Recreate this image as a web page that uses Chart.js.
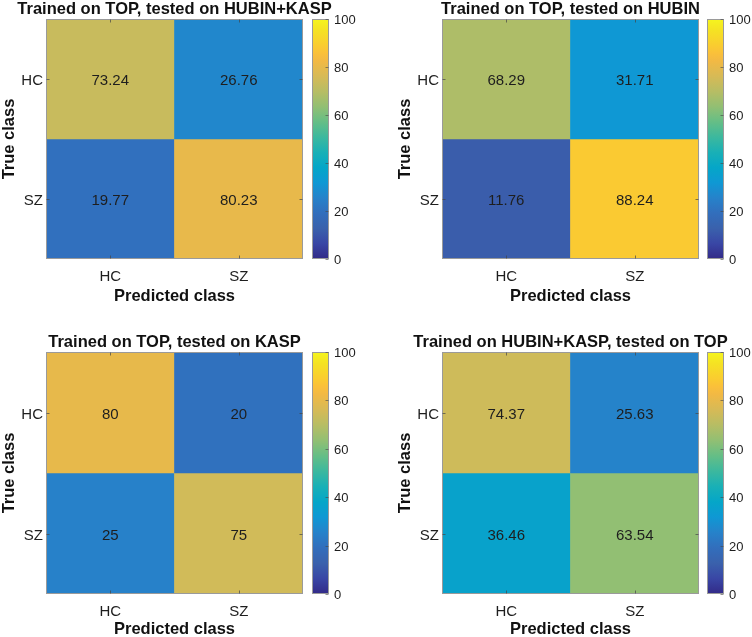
<!DOCTYPE html>
<html>
<head>
<meta charset="utf-8">
<script src="https://cdn.jsdelivr.net/npm/chart.js@4.4.0/dist/chart.umd.min.js"></script>
<style>
html,body{margin:0;padding:0;background:#fff;}
#wrap{position:relative;width:752px;height:637px;overflow:hidden;background:#fff;}
canvas{position:absolute;}
</style>
</head>
<body>
<div id="wrap"></div>
<script>
// ---------------- data ----------------
const classes = ['HC', 'SZ'];
const panelTitles = [
  'Trained on TOP, tested on HUBIN+KASP',
  'Trained on TOP, tested on HUBIN',
  'Trained on TOP, tested on KASP',
  'Trained on HUBIN+KASP, tested on TOP'
];
const cmTopHubinKasp = [[73.24, 26.76], [19.77, 80.23]];
const cmTopHubin     = [[68.29, 31.71], [11.76, 88.24]];
const cmTopKasp      = [[80, 20], [25, 75]];
const cmHubinKaspTop = [[74.37, 25.63], [36.46, 63.54]];
const colorbarTicks  = [0, 20, 40, 60, 80, 100];
const xAxisTitle = 'Predicted class';
const yAxisTitle = 'True class';

// ---------------- style ----------------
const FONT = "'Liberation Sans', Arial, Helvetica, sans-serif";
const TEXT = '#1e1e1e';
const EDGE = '#9a9a9a';
// parula-like colormap anchors (t, rgb), toned as in the printed figure
const PARULA = [
  [0/63,[50,42,135]],[4/63,[57,70,165]],[8/63,[58,97,172]],[12/63,[50,110,188]],
  [16/63,[38,130,202]],[20/63,[15,152,212]],[24/63,[5,166,200]],[28/63,[25,176,182]],
  [32/63,[60,184,158]],[36/63,[101,190,134]],[40/63,[146,191,115]],[44/63,[183,189,100]],
  [48/63,[215,186,86]],[52/63,[242,185,68]],[54/63,[250,192,58]],[56/63,[250,204,48]],
  [60/63,[245,226,35]],[63/63,[245,245,30]]
];
function parula(t){
  t = Math.max(0, Math.min(1, t));
  for (let i = 1; i < PARULA.length; i++) {
    const [t1, c1] = PARULA[i];
    if (t <= t1) {
      const [t0, c0] = PARULA[i-1];
      const f = (t - t0) / (t1 - t0);
      const c = c0.map((v, k) => Math.round(v + (c1[k] - v) * f));
      return `rgb(${c[0]},${c[1]},${c[2]})`;
    }
  }
  const c = PARULA[PARULA.length-1][1];
  return `rgb(${c[0]},${c[1]},${c[2]})`;
}

const heatmapDecor = {
  id: 'heatmapDecor',
  afterDatasetsDraw(chart) {
    const {ctx, chartArea: a, scales: {x, y}} = chart;
    ctx.save();
    ctx.font = `15px ${FONT}`;
    ctx.fillStyle = TEXT;
    ctx.textAlign = 'center';
    ctx.textBaseline = 'middle';
    chart.data.datasets.forEach((ds, di) => {
      const meta = chart.getDatasetMeta(di);
      meta.data.forEach((bar, j) => {
        ctx.fillText(String(ds.cellValues[j]), bar.x, (bar.y + bar.base) / 2 + 2);
      });
    });
    ctx.strokeStyle = EDGE;
    ctx.lineWidth = 1;
    const L = Math.round(a.left) + 0.5, R = Math.round(a.right) - 0.5;
    const T = Math.round(a.top) + 0.5, B = Math.round(a.bottom) - 0.5;
    ctx.strokeRect(L, T, R - L, B - T);
    ctx.strokeStyle = 'rgba(70,70,70,0.7)';
    ctx.beginPath();
    x.ticks.forEach((tk, i) => {
      const px = Math.round(x.getPixelForTick(i)) + 0.5;
      ctx.moveTo(px, B); ctx.lineTo(px, B - 3);
      ctx.moveTo(px, T); ctx.lineTo(px, T + 3);
    });
    y.ticks.forEach((tk) => {
      const py = Math.round(y.getPixelForValue(tk.value)) + 0.5;
      ctx.moveTo(L, py); ctx.lineTo(L + 3, py);
      ctx.moveTo(R, py); ctx.lineTo(R - 3, py);
    });
    ctx.stroke();
    ctx.restore();
  }
};

const colorbarDecor = {
  id: 'colorbarDecor',
  afterDatasetsDraw(chart) {
    const {ctx, chartArea: a, scales: {y}} = chart;
    ctx.save();
    ctx.strokeStyle = EDGE;
    ctx.lineWidth = 1;
    const L = Math.round(a.left) + 0.5, R = Math.round(a.right) - 0.5;
    const T = Math.round(a.top) + 0.5, B = Math.round(a.bottom) - 0.5;
    ctx.strokeRect(L, T, R - L, B - T);
    ctx.strokeStyle = 'rgba(70,70,70,0.6)';
    ctx.beginPath();
    y.ticks.forEach((tk) => {
      const py = Math.round(y.getPixelForValue(tk.value)) + 0.5;
      ctx.moveTo(R, py); ctx.lineTo(R - 3, py);
    });
    ctx.stroke();
    ctx.restore();
  }
};

function parulaGradient(chart) {
  const a = chart.chartArea;
  if (!a) return null;
  const y = chart.scales.y;
  const y0 = y.getPixelForValue(colorbarTicks[0]);
  const y1 = y.getPixelForValue(colorbarTicks[colorbarTicks.length - 1]);
  const g = chart.ctx.createLinearGradient(0, y0, 0, y1);
  PARULA.forEach(([t, c]) => g.addColorStop(t, `rgb(${c[0]},${c[1]},${c[2]})`));
  return g;
}

function addCanvas(left, top, w, h, z) {
  const c = document.createElement('canvas');
  c.width = w; c.height = h;
  c.style.left = left + 'px'; c.style.top = top + 'px';
  c.style.width = w + 'px'; c.style.height = h + 'px';
  c.style.zIndex = z;
  document.getElementById('wrap').appendChild(c);
  return c;
}

function makeHeatmap(canvas, matrix, title, axisH, tickPad) {
  const nR = classes.length;
  const datasets = matrix.map((row, r) => ({
    data: classes.map(() => [nR - 1 - r, nR - r]),
    cellValues: row,
    backgroundColor: row.map(v => parula(v / 100)),
    borderWidth: 0,
    barPercentage: 1,
    categoryPercentage: 1,
    grouped: false
  }));
  return new Chart(canvas, {
    type: 'bar',
    data: {labels: classes, datasets},
    options: {
      responsive: false, animation: false, devicePixelRatio: 1,
      layout: {padding: 0},
      plugins: {
        legend: {display: false}, tooltip: {enabled: false},
        title: {display: true, text: title, color: '#111',
          font: {family: FONT, size: 16.5, weight: 'bold', lineHeight: '19px'},
          padding: {top: 0, bottom: 0}}
      },
      scales: {
        x: {
          grid: {display: false, drawTicks: false}, border: {display: false},
          ticks: {font: {family: FONT, size: 15, lineHeight: '18px'}, color: TEXT, padding: tickPad, maxRotation: 0},
          title: {display: true, text: xAxisTitle, color: '#111',
            font: {family: FONT, size: 16.5, weight: 'bold', lineHeight: '15px'}, padding: 0},
          afterFit(s) { s.height = axisH; }
        },
        y: {
          min: 0, max: nR,
          grid: {display: false, drawTicks: false}, border: {display: false},
          afterBuildTicks(s) { s.ticks = classes.map((c, i) => ({value: nR - i - 0.5})); },
          ticks: {font: {family: FONT, size: 15}, color: TEXT, padding: 3, labelOffset: 2,
            callback: (v) => classes[nR - 1 - Math.floor(v)]},
          title: {display: true, text: yAxisTitle, color: '#111',
            font: {family: FONT, size: 16.5, weight: 'bold', lineHeight: '18px'}, padding: {top: 0, bottom: 0}},
          afterFit(s) { s.width = 46; }
        },
        yRight: {
          position: 'right', min: 0, max: nR,
          grid: {display: false, drawTicks: false}, border: {display: false},
          ticks: {display: false},
          afterFit(s) { s.width = 46; }
        }
      }
    },
    plugins: [heatmapDecor]
  });
}

function makeColorbar(canvas, padBottom, axisW) {
  return new Chart(canvas, {
    type: 'bar',
    data: {labels: [''], datasets: [{
      data: [[colorbarTicks[0], colorbarTicks[colorbarTicks.length - 1]]],
      backgroundColor: (c) => parulaGradient(c.chart),
      borderWidth: 0, barPercentage: 1, categoryPercentage: 1
    }]},
    options: {
      responsive: false, animation: false, devicePixelRatio: 1,
      layout: {padding: {top: 19, bottom: padBottom, left: 0, right: 0}},
      plugins: {legend: {display: false}, tooltip: {enabled: false}},
      scales: {
        x: {display: false},
        y: {
          position: 'right',
          min: colorbarTicks[0], max: colorbarTicks[colorbarTicks.length - 1],
          afterBuildTicks(s) { s.ticks = colorbarTicks.map(v => ({value: v})); },
          grid: {display: false, drawTicks: false}, border: {display: false},
          ticks: {font: {family: FONT, size: 13}, color: TEXT, padding: 5, labelOffset: 1.5},
          afterFit(s) { s.width = axisW; }
        }
      }
    },
    plugins: [colorbarDecor]
  });
}

// ---------------- layout ----------------
const panels = [
  {m: cmTopHubinKasp, t: panelTitles[0], hx: 0,   hy: 0,   axisH: 45, pad: 9, cbx: 312, cbw: 50, cbB: 16},
  {m: cmTopHubin,     t: panelTitles[1], hx: 396, hy: 0,   axisH: 45, pad: 9, cbx: 707, cbw: 45, cbB: 16},
  {m: cmTopKasp,      t: panelTitles[2], hx: 0,   hy: 333, axisH: 43, pad: 9, cbx: 312, cbw: 50, cbB: 14},
  {m: cmHubinKaspTop, t: panelTitles[3], hx: 396, hy: 333, axisH: 43, pad: 9, cbx: 707, cbw: 45, cbB: 14}
];
panels.forEach(p => {
  const hc = addCanvas(p.hx, p.hy, 349, 304, 1);
  makeHeatmap(hc, p.m, p.t, p.axisH, p.pad);
  const cc = addCanvas(p.cbx, p.hy, p.cbw, 275, 2);
  makeColorbar(cc, p.cbB, p.cbw - 17);
});
</script>
</body>
</html>
